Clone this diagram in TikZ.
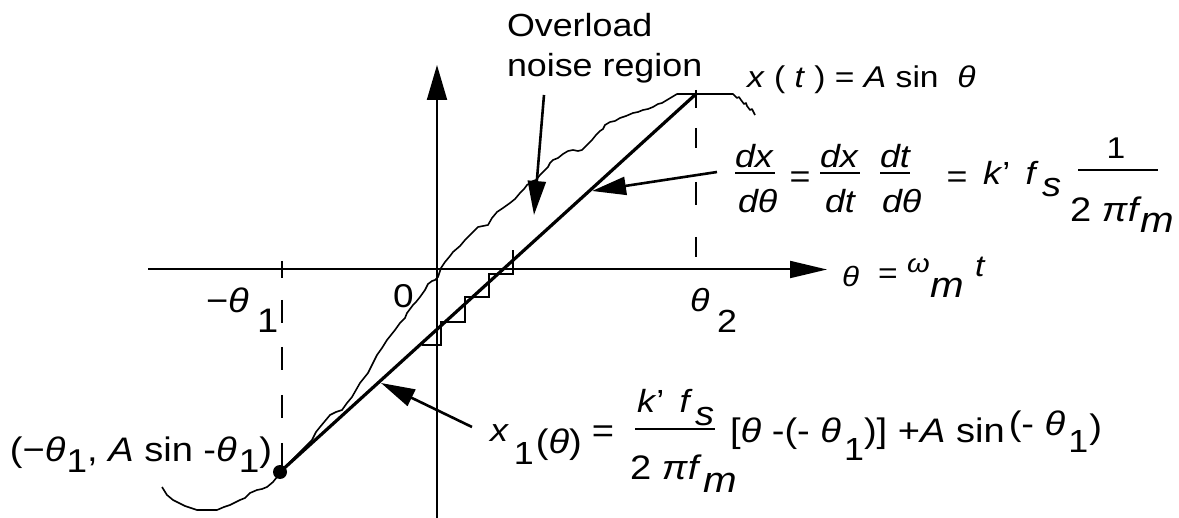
\documentclass[tikz,border=0pt]{standalone}
\usepackage{fontspec}
\setmainfont{Liberation Sans}[FakeStretch=1.12]
\usetikzlibrary{arrows.meta}
\newcommand\fsz[1]{\fontsize{#1}{#1}\selectfont}
\tikzset{
  lab/.style={inner sep=0pt, outer sep=0pt, anchor=base west},
  labc/.style={inner sep=0pt, outer sep=0pt, anchor=center},
  axisln/.style={line width=1pt, -{Triangle[length=18.5pt,width=8.5pt]}},
  annarrow/.style={line width=1.3pt, -{Triangle[length=17pt,width=9pt]}},
  curveln/.style={line width=0.8pt, line join=round},
  sline/.style={line width=1.6pt},
  stairln/.style={line width=1pt},
  dashln/.style={line width=1pt},
  fbar/.style={line width=0.9pt},
}
\begin{document}
\begin{tikzpicture}[x=0.5pt,y=-0.5pt]
\useasboundingbox (0,0) rectangle (1179,518);
% axes
\coordinate (xs) at (148,269.5); \coordinate (xe) at (827,269.5);
\coordinate (ys) at (437,518); \coordinate (ye) at (437,65);
\draw[axisln] (xs) -- (xe);
\draw[line width=1pt, -{Triangle[length=17.5pt,width=10pt]}] (ys) -- (ye);
% dashed guides
\draw[dashln] (282,261) -- (282,278) (282,300) -- (282,323) (282,347) -- (282,370)
  (282,395) -- (282,418) (282,443) -- (282,466);
\draw[dashln] (696,90) -- (696,108) (696,128) -- (696,148) (696,182) -- (696,205) (696,237) -- (696,257);
% slope line
\node[circle, fill, inner sep=0pt, minimum size=7pt] (dot) at (280,472) {};
\coordinate (top) at (696,94);
\draw[sline] (dot.center) -- (top);
% staircase
\draw[stairln] (421.7,345) -- (441,345) -- (441,321.7) -- (465,321.7) -- (465,297.3)
  -- (489.3,297.3) -- (489.3,274) -- (513.3,274) -- (513.3,250);
% signal curve
\draw[curveln] (162,487) -- (167,495) -- (173,500) -- (185,506) -- (197,510) -- (217,510)
  -- (224,507) -- (230,505) -- (240,500) -- (245,498) -- (250,493) -- (257,490) -- (262,489)
  -- (267,487) -- (273,482) -- (277,477) -- (280,472) -- (288,464) -- (296,456) -- (304,448)
  -- (312,440) -- (316,432) -- (320,427) -- (330,415) -- (336,412) -- (342,410) -- (347,403)
  -- (352,397) -- (356,390) -- (360,383) -- (368,373) -- (373,363) -- (377,355) -- (382,348)
  -- (387,340) -- (395,330) -- (400,323) -- (405,318) -- (407,313) -- (413,305) -- (416,302)
  -- (420,297) -- (425,290) -- (428,284) -- (432,281) -- (435,280) -- (438,277) -- (440,271)
  -- (441,268) -- (445,262) -- (450,256) -- (453,252) -- (460,246) -- (465,240) -- (472,233)
  -- (478,227) -- (483,226) -- (488,225) -- (492,218) -- (497,212) -- (503,208) -- (510,203)
  -- (515,199) -- (520,193) -- (524,189) -- (527,185) -- (533,181) -- (536,180) -- (540,175)
  -- (545,170) -- (548,167) -- (550,163) -- (553,160) -- (558,158) -- (563,154) -- (568,151)
  -- (573,150) -- (578,151) -- (582,150) -- (586,146) -- (592,140) -- (596,135) -- (600,131)
  -- (603,129) -- (605,125) -- (610,122) -- (615,121) -- (620,118) -- (626,116) -- (633,113)
  -- (638,112) -- (643,110) -- (648,109) -- (653,107) -- (658,104) -- (662,103) -- (667,100)
  -- (672,97) -- (677,94) -- (733,94) -- (737,98) -- (739,97) -- (741,100) -- (744,104)
  -- (746,103) -- (747,106) -- (750,110) -- (752,109) -- (755,115);
% annotation arrows
\coordinate (a1s) at (544,95); \coordinate (a1e) at (534,215);
\coordinate (a2s) at (717,172); \coordinate (a2e) at (592,191);
\coordinate (a3s) at (472,427); \coordinate (a3e) at (381,383);
\draw[annarrow] (a1s) -- (a1e);
\draw[annarrow] (a2s) -- (a2e);
\draw[annarrow] (a3s) -- (a3e);
% labels
\node[lab, font=\fsz{16}] (ov) at (507,37) {Overload};
\node[lab, font=\fsz{16}] (nr) at (507,77) {noise region};
\node[lab, font=\fsz{15}] (xt) at (747,88) {\textit{x} ( \textit{t} ) = \textit{A} sin \ \textit{θ}};
% derivative
\node[lab, font=\fsz{16}\itshape] (n1) at (735,168) {dx};
\draw[fbar] (735,173) -- (775,173);
\node[lab, font=\fsz{16}\itshape] (d1) at (738,213) {dθ};
\node[labc, font=\fsz{16}] (e1) at (800,180) {=};
\node[lab, font=\fsz{16}\itshape] (n2) at (820,168) {dx};
\draw[fbar] (820,173) -- (860,173);
\node[lab, font=\fsz{16}\itshape] (d2) at (825,213) {dt};
\node[lab, font=\fsz{16}\itshape] (n3) at (880,168) {dt};
\draw[fbar] (880,173) -- (910,173);
\node[lab, font=\fsz{16}\itshape] (d3) at (882,213) {dθ};
\node[labc, font=\fsz{16}] (e2) at (957,180) {=};
\node[lab, font=\fsz{16}] (kf) at (983,185) {\textit{k}' \,\textit{f}};
\node[lab, font=\fsz{17}\itshape] (ss) at (1042,197) {s};
\node[labc, font=\fsz{15}] (one) at (1116,148) {1};
\draw[fbar] (1078,170) -- (1158,170);
\node[lab, font=\fsz{17}] (tpf) at (1070,222) {2 \textit{π}\textit{f}};
\node[lab, font=\fsz{18}\itshape] (mm) at (1140,233) {m};
% theta axis label
\node[lab, font=\fsz{14}\itshape] (th) at (842,287) {θ};
\node[labc, font=\fsz{15}] (eq3) at (888,276) {=};
\node[lab, font=\fsz{13}\itshape] (om) at (907,273) {ω};
\node[lab, font=\fsz{18}\itshape] (m2) at (930,298) {m};
\node[lab, font=\fsz{15}\itshape] (tt) at (975,277) {t};
% tick labels
\node[lab, font=\fsz{16}\itshape] (th2) at (690,312) {θ};
\node[lab, font=\fsz{16}] (two) at (717,333) {2};
\node[lab, font=\fsz{17}] (mth) at (206,313) {−\textit{θ}};
\node[lab, font=\fsz{17}] (one1) at (257,333) {1};
\node[lab, font=\fsz{16.5}] (zero) at (393,308) {0};
% point label
\node[lab, font=\fsz{17}] (bl1) at (10,461) {(−\textit{θ}};
\node[lab, font=\fsz{16.5}] (bl2) at ([xshift=0.5pt,yshift=-6pt]bl1.base east) {1};
\node[lab, font=\fsz{17}] (bl3) at ([yshift=6pt]bl2.base east) {, \textit{A} sin -\textit{θ}};
\node[lab, font=\fsz{16.5}] (bl4) at ([xshift=1pt,yshift=-6pt]bl3.base east) {1};
\node[lab, font=\fsz{17}] (bl5) at ([yshift=6pt]bl4.base east) {)};
% x1 formula
\node[lab, font=\fsz{16}\itshape] (x1) at (490,442) {x};
\node[lab, font=\fsz{16}] (x1s) at ([xshift=3pt,yshift=-11.5pt]x1.base east) {1};
\node[lab, font=\fsz{17}] (x1t) at ([xshift=1pt,yshift=6pt]x1s.base east) {(\textit{θ})};
\node[lab, font=\fsz{17}] (e4) at ([xshift=5pt,yshift=5pt]x1t.base east) {=};
\node[lab, font=\fsz{16}] (kf2) at (637,413) {\textit{k}' \,\textit{f}};
\node[lab, font=\fsz{17}\itshape] (ss2) at (695,425) {s};
\draw[fbar] (635,429) -- (715,429);
\node[lab, font=\fsz{17}] (tpf2) at (630,480) {2 \textit{π}\textit{f}};
\node[lab, font=\fsz{18}\itshape] (mm2) at (703,493) {m};
\node[lab, font=\fsz{17}] (br1) at (730,443) {[\textit{θ} -(- \textit{θ}};
\node[lab, font=\fsz{16}] (br2) at ([xshift=1.5pt,yshift=-8.5pt]br1.base east) {1};
\node[lab, font=\fsz{17}] (br3) at ([yshift=8.5pt]br2.base east) {)] +\textit{A} sin};
\node[lab, font=\fsz{17}] (br4) at ([xshift=2pt,yshift=3.5pt]br3.base east) {(- \textit{θ}};
\node[lab, font=\fsz{16}] (br5) at ([xshift=1.5pt,yshift=-8pt]br4.base east) {1};
\node[lab, font=\fsz{17}] (br6) at ([xshift=0.5pt,yshift=7pt]br5.base east) {)};
\end{tikzpicture}
\end{document}
